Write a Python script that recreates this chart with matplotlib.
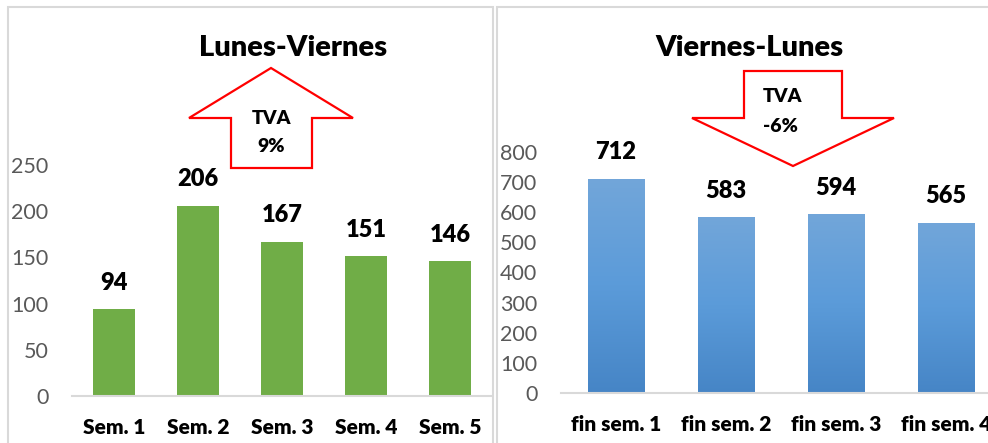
import numpy as np
import matplotlib.pyplot as plt
from matplotlib.patches import Polygon, Rectangle
from matplotlib.colors import LinearSegmentedColormap

plt.rcParams["font.family"] = ["Lato", "DejaVu Sans"]

# data
lv_cats = ["Sem. 1", "Sem. 2", "Sem. 3", "Sem. 4", "Sem. 5"]
lv_vals = [94, 206, 167, 151, 146]
lv_ticks = [0, 50, 100, 150, 200, 250]

vl_cats = ["fin sem. 1", "fin sem. 2", "fin sem. 3", "fin sem. 4"]
vl_vals = [712, 583, 594, 565]
vl_ticks = [0, 100, 200, 300, 400, 500, 600, 700, 800]

W, H = 988, 443
BOLD = "heavy"
fig = plt.figure(figsize=(W / 100, H / 100), dpi=100)


def box(x0, y0, x1, y1):
    # pixel box (from top-left) -> figure fraction rect
    return [x0 / W, 1 - y1 / H, (x1 - x0) / W, (y1 - y0) / H]


def pts(p):
    return [(x / W, 1 - y / H) for x, y in p]


def style(ax, ticks):
    for s in ["top", "right", "left"]:
        ax.spines[s].set_visible(False)
    ax.spines["bottom"].set_color("#d9d9d9")
    ax.spines["bottom"].set_linewidth(1.5)
    ax.tick_params(length=0)
    ax.tick_params(axis="y", labelsize=15.5, labelcolor="#595959", pad=17)
    ax.tick_params(axis="x", labelsize=15, pad=16)
    ax.set_yticks(ticks)
    for t in ax.get_xticklabels():
        t.set_fontweight(BOLD)
    ax.patch.set_alpha(0)


# panel borders
fig.add_artist(Rectangle((8 / W, -0.1), (493 - 8) / W, 1.1 - 7 / H,
                         transform=fig.transFigure, fill=False,
                         edgecolor="#d9d9d9", lw=1.5))
fig.add_artist(Rectangle((497 / W, -0.1), 0.6, 1.1 - 7 / H,
                         transform=fig.transFigure, fill=False,
                         edgecolor="#d9d9d9", lw=1.5))

# left chart
ax1 = fig.add_axes(box(72, 165, 492, 396))
x1 = np.arange(len(lv_cats))
b1 = ax1.bar(x1, lv_vals, width=0.51, color="#70ad47", zorder=2)
ax1.set_xlim(-0.5, len(lv_cats) - 0.5)
ax1.set_ylim(0, 250)
ax1.set_xticks(x1, lv_cats)
style(ax1, lv_ticks)
for xi, v in zip(x1, lv_vals):
    ax1.annotate(str(v), (xi, v), xytext=(0, 19), textcoords="offset points",
                 ha="center", va="center", fontsize=17, fontweight=BOLD)

# right chart
ax2 = fig.add_axes(box(561, 152, 1001, 393))
x2 = np.arange(len(vl_cats))
b2 = ax2.bar(x2, vl_vals, width=0.51, color="none", zorder=2)
cmap = LinearSegmentedColormap.from_list("blu", ["#4685c6", "#5b9bd9", "#72a6da"])
grad = np.linspace(0, 1, 256).reshape(-1, 1)
for bar in b2:
    bx, by = bar.get_xy()
    im = ax2.imshow(grad, extent=[bx, bx + bar.get_width(), 0, bar.get_height()],
                    origin="lower", cmap=cmap, aspect="auto", zorder=2)
    im.set_clip_path(bar)
ax2.set_xlim(-0.5, len(vl_cats) - 0.5)
ax2.set_ylim(0, 800)
ax2.set_xticks(x2, vl_cats)
style(ax2, vl_ticks)
for xi, v in zip(x2, vl_vals):
    ax2.annotate(str(v), (xi, v), xytext=(0, 19), textcoords="offset points",
                 ha="center", va="center", fontsize=17, fontweight=BOLD)

# titles
fig.text(293 / W, 1 - 48 / H, "Lunes-Viernes", ha="center", va="center",
         fontsize=21, fontweight=BOLD)
fig.text(749 / W, 1 - 48 / H, "Viernes-Lunes", ha="center", va="center",
         fontsize=21, fontweight=BOLD)

# TVA arrows
up = [(271, 68), (353, 118), (312, 118), (312, 168), (231, 168), (231, 118), (189, 118)]
down = [(744, 71), (842, 71), (842, 118), (894, 118), (793, 166), (692, 118), (744, 118)]
for p in (up, down):
    fig.add_artist(Polygon(pts(p), closed=True, transform=fig.transFigure,
                           facecolor="white", edgecolor="#ff0000", lw=1.6,
                           joinstyle="miter"))
fig.text(271 / W, 1 - 118 / H, "TVA", ha="center", va="center", fontsize=14, fontweight=BOLD)
fig.text(271 / W, 1 - 147 / H, "9%", ha="center", va="center", fontsize=14, fontweight=BOLD)
fig.text(763 / W, 1 - 97 / H, "TVA", ha="left", va="center", fontsize=14, fontweight=BOLD)
fig.text(763 / W, 1 - 126 / H, "-6%", ha="left", va="center", fontsize=14, fontweight=BOLD)

fig.savefig("out.png", dpi=100)
